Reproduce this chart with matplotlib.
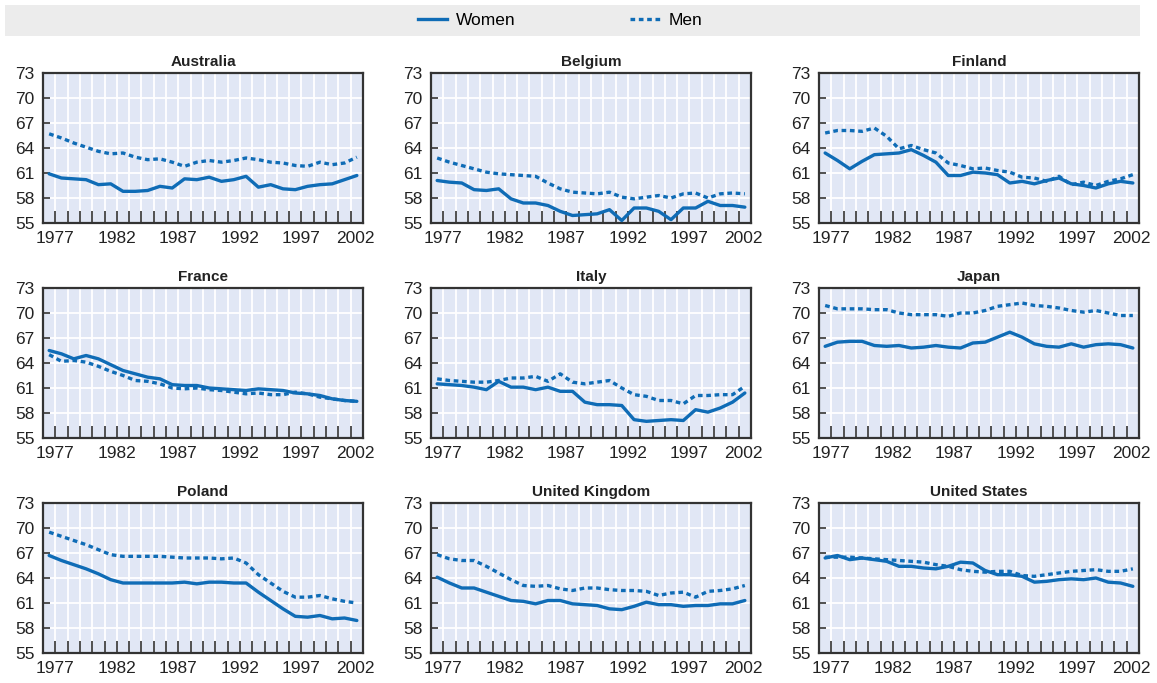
import matplotlib
matplotlib.use("Agg")
import matplotlib.pyplot as plt
import matplotlib.transforms as mtransforms
from matplotlib.lines import Line2D
from matplotlib.patches import Rectangle
import numpy as np

plt.rcParams['font.family'] = ['Liberation Sans', 'DejaVu Sans']

years = np.arange(1977, 2003)

countries = ["Australia", "Belgium", "Finland",
             "France", "Italy", "Japan",
             "Poland", "United Kingdom", "United States"]

australia_women = [60.9, 60.4, 60.3, 60.2, 59.6, 59.7, 58.8, 58.8, 58.9, 59.4, 59.2, 60.3, 60.2,
                   60.5, 60.0, 60.2, 60.6, 59.3, 59.6, 59.1, 59.0, 59.4, 59.6, 59.7, 60.2, 60.7]
australia_men = [65.7, 65.2, 64.6, 64.1, 63.6, 63.3, 63.4, 62.9, 62.6, 62.7, 62.3, 61.8, 62.3,
                 62.5, 62.3, 62.5, 62.8, 62.6, 62.3, 62.2, 61.9, 61.8, 62.3, 62.0, 62.2, 62.9]

belgium_women = [60.1, 59.9, 59.8, 59.0, 58.9, 59.1, 57.9, 57.4, 57.4, 57.1, 56.4, 55.9, 56.0,
                 56.1, 56.6, 55.3, 56.8, 56.8, 56.4, 55.4, 56.8, 56.8, 57.6, 57.1, 57.1, 56.9]
belgium_men = [62.8, 62.3, 61.9, 61.5, 61.1, 60.9, 60.8, 60.7, 60.6, 59.8, 59.1, 58.7, 58.6,
               58.5, 58.7, 58.1, 57.9, 58.1, 58.3, 58.0, 58.5, 58.6, 58.0, 58.5, 58.6, 58.5]

finland_women = [63.4, 62.5, 61.5, 62.4, 63.2, 63.3, 63.4, 63.8, 63.1, 62.3, 60.7, 60.7, 61.1,
                 61.0, 60.8, 59.8, 60.0, 59.7, 60.1, 60.4, 59.7, 59.5, 59.2, 59.7, 60.0, 59.8]
finland_men = [65.8, 66.1, 66.1, 66.0, 66.4, 65.4, 63.9, 64.3, 63.8, 63.4, 62.2, 61.9, 61.5,
               61.6, 61.3, 61.1, 60.5, 60.4, 60.0, 60.6, 59.6, 59.9, 59.5, 60.0, 60.3, 60.8]

france_women = [65.5, 65.1, 64.5, 64.9, 64.5, 63.8, 63.1, 62.7, 62.3, 62.1, 61.4, 61.3, 61.3,
                61.0, 60.9, 60.8, 60.7, 60.9, 60.8, 60.7, 60.4, 60.3, 60.1, 59.7, 59.5, 59.4]
france_men = [65.0, 64.2, 64.3, 64.1, 63.6, 63.0, 62.5, 61.9, 61.8, 61.5, 61.0, 60.9, 61.0,
              60.8, 60.7, 60.5, 60.3, 60.4, 60.2, 60.2, 60.5, 60.3, 59.9, 59.7, 59.5, 59.4]

italy_women = [61.5, 61.4, 61.3, 61.1, 60.8, 61.8, 61.1, 61.1, 60.8, 61.1, 60.6, 60.6, 59.3,
               59.0, 59.0, 58.9, 57.2, 57.0, 57.1, 57.2, 57.1, 58.4, 58.1, 58.6, 59.3, 60.4]
italy_men = [62.1, 61.9, 61.8, 61.7, 61.7, 61.9, 62.2, 62.2, 62.4, 61.8, 62.7, 61.7, 61.5,
             61.7, 61.9, 61.0, 60.2, 60.0, 59.5, 59.5, 59.1, 60.1, 60.1, 60.2, 60.2, 61.2]

japan_women = [66.0, 66.5, 66.6, 66.6, 66.1, 66.0, 66.1, 65.8, 65.9, 66.1, 65.9, 65.8, 66.4,
               66.5, 67.1, 67.7, 67.1, 66.3, 66.0, 65.9, 66.3, 65.9, 66.2, 66.3, 66.2, 65.8]
japan_men = [70.9, 70.5, 70.5, 70.5, 70.4, 70.4, 70.0, 69.8, 69.8, 69.8, 69.6, 70.0, 70.0,
             70.3, 70.8, 71.0, 71.2, 70.9, 70.8, 70.6, 70.3, 70.1, 70.3, 70.0, 69.7, 69.7]

poland_women = [66.7, 66.1, 65.6, 65.1, 64.5, 63.8, 63.4, 63.4, 63.4, 63.4, 63.4, 63.5, 63.3,
                63.5, 63.5, 63.4, 63.4, 62.3, 61.3, 60.3, 59.4, 59.3, 59.5, 59.1, 59.2, 58.9]
poland_men = [69.5, 69.0, 68.5, 68.0, 67.4, 66.8, 66.6, 66.6, 66.6, 66.6, 66.5, 66.4, 66.4,
              66.4, 66.3, 66.4, 65.8, 64.4, 63.4, 62.4, 61.7, 61.7, 61.9, 61.5, 61.2, 61.0]

uk_women = [64.1, 63.4, 62.8, 62.8, 62.3, 61.8, 61.3, 61.2, 60.9, 61.3, 61.3, 60.9, 60.8,
            60.7, 60.3, 60.2, 60.6, 61.1, 60.8, 60.8, 60.6, 60.7, 60.7, 60.9, 60.9, 61.3]
uk_men = [66.8, 66.3, 66.1, 66.1, 65.4, 64.6, 63.8, 63.1, 63.0, 63.1, 62.7, 62.5, 62.8,
          62.8, 62.6, 62.5, 62.5, 62.4, 61.9, 62.2, 62.3, 61.7, 62.4, 62.5, 62.7, 63.1]

us_women = [66.4, 66.7, 66.2, 66.4, 66.2, 66.0, 65.4, 65.4, 65.2, 65.1, 65.4, 65.9, 65.8,
            64.9, 64.4, 64.4, 64.2, 63.5, 63.6, 63.8, 63.9, 63.8, 64.0, 63.5, 63.4, 63.0]
us_men = [66.5, 66.5, 66.5, 66.4, 66.3, 66.2, 66.1, 66.0, 65.9, 65.6, 65.4, 65.0, 64.8,
          64.7, 64.8, 64.8, 64.3, 64.2, 64.4, 64.6, 64.8, 64.9, 65.0, 64.8, 64.8, 65.1]

women = [australia_women, belgium_women, finland_women, france_women, italy_women,
         japan_women, poland_women, uk_women, us_women]
men = [australia_men, belgium_men, finland_men, france_men, italy_men,
       japan_men, poland_men, uk_men, us_men]

y_ticks = [55, 58, 61, 64, 67, 70, 73]
x_labels = [1977, 1982, 1987, 1992, 1997, 2002]

BLUE = "#0f6cb6"
BG = "#e1e7f5"
DARK = "#333333"

fig = plt.figure(figsize=(11.57, 6.83), dpi=100)

# legend band
fig.patches.append(Rectangle((5 / 1157, 1 - 36 / 683), 1135 / 1157, 31 / 683,
                             transform=fig.transFigure, facecolor="#ececec",
                             edgecolor="none", zorder=0))
handles = [Line2D([], [], color=BLUE, lw=2.4),
           Line2D([], [], color=BLUE, lw=2.4, dashes=(1.4, 1.1))]
fig.legend(handles, ["Women", "Men"], loc="center", bbox_to_anchor=(0.484, 1 - 20 / 683),
           ncol=2, frameon=False, fontsize=12.5, handlelength=1.7, handletextpad=0.5,
           columnspacing=6.6)

lefts = [43, 431, 819]
bottoms = [223, 438, 653]
W, H = 320, 150

for i, name in enumerate(countries):
    r, c = divmod(i, 3)
    ax = fig.add_axes([lefts[c] / 1157, 1 - bottoms[r] / 683, W / 1157, H / 683])
    ax.set_facecolor(BG)
    ax.plot(years - 0.5, women[i], color=BLUE, lw=2.4, solid_joinstyle="round",
            solid_capstyle="round", zorder=3)
    ax.plot(years - 0.5, men[i], color=BLUE, lw=2.4, dashes=(1.4, 1.1), zorder=3)
    ax.set_xlim(1976, 2002)
    ax.set_ylim(55, 73)
    ax.set_xticks(years, minor=True)
    ax.set_xticks(x_labels)
    ax.set_xticklabels([str(y) for y in x_labels])
    ax.set_yticks(y_ticks)
    ax.grid(True, which="both", axis="x", color="white", lw=1.3)
    ax.grid(True, which="major", axis="y", color="white", lw=1.3)
    ax.set_axisbelow(True)
    ax.tick_params(axis="x", which="both", direction="in", length=9, width=1.2,
                   color=DARK, labelsize=12.5, pad=6, labelcolor="#222222", top=False)
    ax.tick_params(axis="y", direction="in", length=5, width=1.2, color=DARK,
                   labelsize=12.5, pad=6, labelcolor="#222222", right=False)
    for s in ax.spines.values():
        s.set_color(DARK)
        s.set_linewidth(1.6)
    # keep last year label inside the panel width
    last = ax.get_xticklabels()[-1]
    last.set_transform(last.get_transform() +
                       mtransforms.ScaledTranslation(-8 / 100, 0, fig.dpi_scale_trans))
    ax.set_title(name, fontsize=11, fontweight="bold", color="#222222", pad=5)

fig.savefig("out.png", dpi=100)
